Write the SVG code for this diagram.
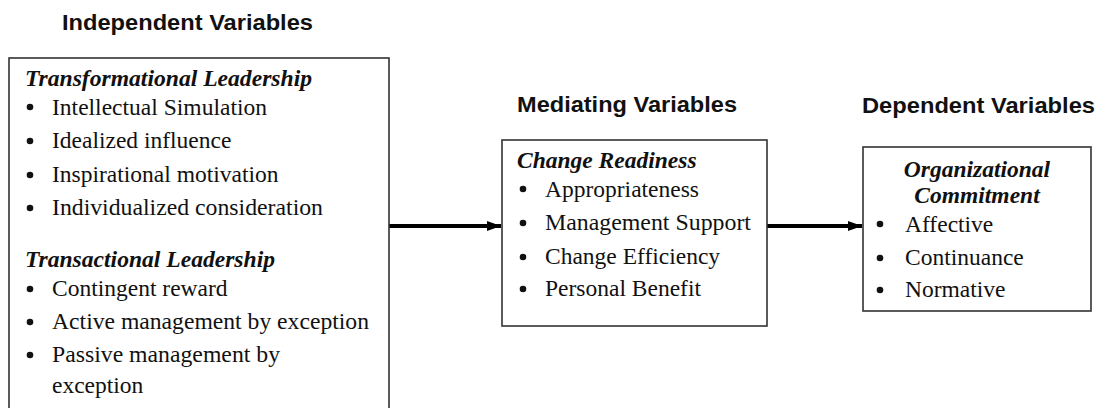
<svg xmlns="http://www.w3.org/2000/svg" width="1097" height="408" viewBox="0 0 1097 408">
  <style>
    .head { font-family: "Liberation Sans", Arial, sans-serif; font-weight: bold; font-size: 22.5px; fill: #111; }
    .title { font-family: "Liberation Serif", "Times New Roman", "DejaVu Serif", serif; font-weight: bold; font-style: italic; font-size: 23.5px; fill: #111; }
    .item { font-family: "Liberation Serif", "Times New Roman", "DejaVu Serif", serif; font-size: 23.5px; fill: #111; }
    .box { fill: #fff; stroke: #333; stroke-width: 1.6; }
    .dot { fill: #111; }
    .conn { stroke: #000; stroke-width: 4; fill: none; }
  </style>
  <defs>
    <marker id="arrow" viewBox="0 0 14 10" refX="14" refY="5" markerWidth="14" markerHeight="10" markerUnits="userSpaceOnUse" orient="auto">
      <path d="M0,0 L14,5 L0,10 Z" fill="#000"/>
    </marker>
  </defs>
  <rect width="1097" height="408" fill="#fff"/>

  <!-- column headings -->
  <text class="head" x="62" y="30" textLength="251" lengthAdjust="spacingAndGlyphs">Independent Variables</text>
  <text class="head" x="517" y="112" textLength="220" lengthAdjust="spacingAndGlyphs">Mediating Variables</text>
  <text class="head" x="862" y="113" textLength="233" lengthAdjust="spacingAndGlyphs">Dependent Variables</text>

  <!-- connectors -->
  <g id="connectors">
    <line class="conn" x1="389" y1="226" x2="501" y2="226" marker-end="url(#arrow)"/>
    <line class="conn" x1="767" y1="226" x2="862" y2="226" marker-end="url(#arrow)"/>
  </g>

  <!-- independent variables -->
  <g id="independent">
    <rect class="box" x="9" y="58" width="380" height="360"/>
    <text class="title" x="25" y="86" textLength="287" lengthAdjust="spacingAndGlyphs">Transformational Leadership</text>
    <circle class="dot" cx="30" cy="107" r="3.3"/>
    <text class="item" x="52" y="115" textLength="215" lengthAdjust="spacingAndGlyphs">Intellectual Simulation</text>
    <circle class="dot" cx="30" cy="141" r="3.3"/>
    <text class="item" x="52" y="148">Idealized influence</text>
    <circle class="dot" cx="30" cy="175" r="3.3"/>
    <text class="item" x="52" y="182">Inspirational motivation</text>
    <circle class="dot" cx="30" cy="208" r="3.3"/>
    <text class="item" x="52" y="215" textLength="271" lengthAdjust="spacingAndGlyphs">Individualized consideration</text>
    <text class="title" x="25" y="267" textLength="250" lengthAdjust="spacingAndGlyphs">Transactional Leadership</text>
    <circle class="dot" cx="30" cy="289" r="3.3"/>
    <text class="item" x="52" y="296">Contingent reward</text>
    <circle class="dot" cx="30" cy="322" r="3.3"/>
    <text class="item" x="52" y="329" textLength="317" lengthAdjust="spacingAndGlyphs">Active management by exception</text>
    <circle class="dot" cx="30" cy="355" r="3.3"/>
    <text class="item" x="52" y="362" textLength="228" lengthAdjust="spacingAndGlyphs">Passive management by</text>
    <text class="item" x="52" y="393">exception</text>
  </g>

  <!-- mediating variables -->
  <g id="mediating">
    <rect class="box" x="502" y="140" width="265" height="186"/>
    <text class="title" x="517" y="168">Change Readiness</text>
    <circle class="dot" cx="523" cy="189" r="3.3"/>
    <text class="item" x="545" y="197">Appropriateness</text>
    <circle class="dot" cx="523" cy="223" r="3.3"/>
    <text class="item" x="545" y="230" textLength="206" lengthAdjust="spacingAndGlyphs">Management Support</text>
    <circle class="dot" cx="523" cy="257" r="3.3"/>
    <text class="item" x="545" y="264">Change Efficiency</text>
    <circle class="dot" cx="523" cy="289" r="3.3"/>
    <text class="item" x="545" y="296">Personal Benefit</text>
  </g>

  <!-- dependent variables -->
  <g id="dependent">
    <rect class="box" x="863" y="147" width="228" height="164"/>
    <text class="title" x="977" y="177" text-anchor="middle">Organizational</text>
    <text class="title" x="977" y="203" text-anchor="middle">Commitment</text>
    <circle class="dot" cx="880" cy="224" r="3.3"/>
    <text class="item" x="905" y="232">Affective</text>
    <circle class="dot" cx="880" cy="258" r="3.3"/>
    <text class="item" x="905" y="265">Continuance</text>
    <circle class="dot" cx="880" cy="290" r="3.3"/>
    <text class="item" x="905" y="297">Normative</text>
  </g>
</svg>
